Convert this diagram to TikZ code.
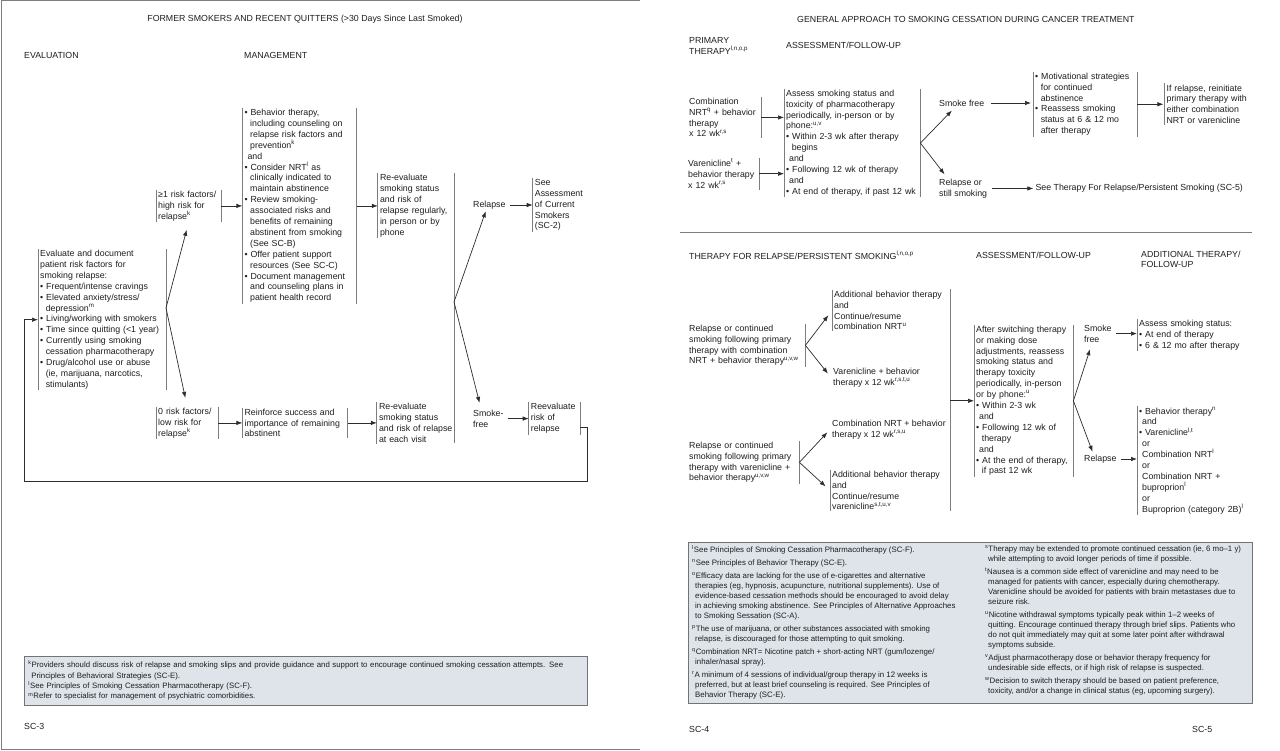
\documentclass[tikz,border=0pt]{standalone}
\usepackage{fontspec}
\setmainfont{Liberation Sans}
\usetikzlibrary{arrows.meta,positioning}
\setlength{\parindent}{0pt}

\definecolor{txt}{RGB}{30,30,30}
\definecolor{linegray}{RGB}{125,125,125}
\definecolor{arrgray}{RGB}{45,45,45}
\definecolor{fnfill}{RGB}{222,228,233}
\definecolor{fnline}{RGB}{115,115,115}

\newcommand{\hg}{\hspace*{5.6pt}}
\newcommand{\an}{\hspace*{3pt}}
\newcommand{\fh}{\hspace*{3pt}}
\newcommand{\sps}[1]{\textsuperscript{#1}}

\tikzset{
  every node/.style={font=\fontsize{8.8}{10.9}\selectfont, text=txt},
  brline/.style={draw=linegray, line width=0.8pt, -},
  arr/.style={draw=arrgray, line width=0.7pt, -{Latex[length=6pt,width=4.5pt]}},
  txtbox/.style={align=left, text width=#1, inner xsep=2pt, inner ysep=1pt, anchor=north west,
    execute at begin node={\hyphenpenalty=10000\relax}},
  lr/.style={append after command={
      (\tikzlastnode.north west) edge[brline] (\tikzlastnode.south west)
      (\tikzlastnode.north east) edge[brline] (\tikzlastnode.south east)}},
  lside/.style={append after command={
      (\tikzlastnode.north west) edge[brline] (\tikzlastnode.south west)}},
  rside/.style={append after command={
      (\tikzlastnode.north east) edge[brline] (\tikzlastnode.south east)}},
  lbl/.style={align=left, inner sep=2pt},
  hdr/.style={align=left, inner sep=0pt},
  fnbox/.style={draw=fnline, fill=fnfill, line width=0.8pt},
  fntext/.style={align=left, inner sep=0pt, font=\fontsize{7.85}{10}\selectfont},
}

\begin{document}
\begin{tikzpicture}[x=1pt, y=-1pt]
  \fill[white, use as bounding box] (0,0) rectangle (1280,751);
  % page frame
  \draw[linegray, line width=1pt] (640,1) -- (1,1) -- (1,749.5) -- (640,749.5);

  % Headers
  \node[hdr] (ttlL) at (305,19) {FORMER SMOKERS AND RECENT QUITTERS (>30 Days Since Last Smoked)};
  \node[hdr, anchor=west] (evalh) at (24,55) {EVALUATION};
  \node[hdr, anchor=west] (mgmth) at (244,55) {MANAGEMENT};
  \node[hdr, anchor=west] (ttlR) at (797,19) {GENERAL APPROACH TO SMOKING CESSATION DURING CANCER TREATMENT};
  \node[hdr, anchor=north west] (primh) at (689,37.5) {PRIMARY\\THERAPY\sps{l,n,o,p}};
  \node[hdr, anchor=west] (assh) at (786,45) {ASSESSMENT/FOLLOW-UP};
  \node[hdr, anchor=west] (relh) at (689,255) {THERAPY FOR RELAPSE/PERSISTENT SMOKING\sps{l,n,o,p}};
  \node[hdr, anchor=west] (assh2) at (976,255) {ASSESSMENT/FOLLOW-UP};
  \node[hdr, anchor=north west] (addh) at (1141,250.5) {ADDITIONAL THERAPY/\\FOLLOW-UP};

  % Nodes, left page
  \node[txtbox=124pt, lr] (evalbox) at (38,249) {Evaluate and document\\patient risk factors for\\smoking relapse:\\• Frequent/intense cravings\\• Elevated anxiety/stress/\\\hg depression\sps{m}\\• Living/working with smokers\\• Time since quitting (<1 year)\\• Currently using smoking\\\hg cessation pharmacotherapy\\• Drug/alcohol use or abuse\\\hg (ie, marijuana, narcotics,\\\hg stimulants)};
  \node[txtbox=61pt, lr] (hirisk) at (156,189.7) {≥1 risk factors/\\high risk for\\relapse\sps{k}};
  \node[txtbox=110pt, lr, right=21pt of hirisk] (mgmt) {• Behavior therapy,\\\hg including counseling on\\\hg relapse risk factors and\\\hg prevention\sps{k}\\\an and\\• Consider NRT\sps{l} as\\\hg clinically indicated to\\\hg maintain abstinence\\• Review smoking-\\\hg associated risks and\\\hg benefits of remaining\\\hg abstinent from smoking\\\hg (See SC-B)\\• Offer patient support\\\hg resources (See SC-C)\\• Document management\\\hg and counseling plans in\\\hg patient health record};
  \node[txtbox=72pt, lside, right=21pt of mgmt] (reeval1) {Re-evaluate\\smoking status\\and risk of\\relapse regularly,\\in person or by\\phone};
  \node[txtbox=58pt, lr] (lowrisk) at (156,406.7) {0 risk factors/\\low risk for\\relapse\sps{k}};
  \node[txtbox=101pt, lr, right=24pt of lowrisk] (reinforce) {Reinforce success and\\importance of remaining\\abstinent};
  \node[txtbox=76pt, lside, right=29pt of reinforce] (reeval2) {Re-evaluate\\smoking status\\and risk of relapse\\at each visit};
  \node[lbl, anchor=west] (relapse) at (471,205) {Relapse};
  \node[txtbox=52pt, lside, right=25pt of relapse] (seeassess) {See\\Assessment\\of Current\\Smokers\\(SC-2)};
  \node[lbl, anchor=north west] (smokefree) at (471,407.7) {Smoke-\\free};
  \node[txtbox=47pt, lr, right=23pt of smokefree] (rrisk) {Reevaluate\\risk of\\relapse};
  \coordinate (br0) at (166,308);
  \coordinate (rtop) at (454,173);
  \coordinate (rbot) at (454,443);
  \coordinate (br1) at (454,302);
  \coordinate (loopc) at (24,481);

  % Arrows, left page
  \draw[brline] (rtop) -- (rbot);
  \draw[arr, shorten >=8pt] (br0) -- (hirisk.south);
  \draw[arr, shorten >=9pt] (br0) -- (lowrisk.north);
  \draw[arr] (hirisk) -- (mgmt);
  \draw[arr] (mgmt) -- (reeval1);
  \draw[arr] (lowrisk) -- (reinforce);
  \draw[arr] (reinforce) -- (reeval2);
  \draw[arr] (br1) -- (relapse.240);
  \draw[arr, shorten >=5pt] (br1) -- (smokefree.125);
  \draw[arr, shorten <=2pt] (relapse) -- (seeassess);
  \draw[arr, shorten <=2pt] (smokefree) -- (rrisk);
  \draw[arr] ([yshift=-9pt]rrisk.east) -- ++(7,0) |- (loopc) |- (evalbox.west);

  % Footnotes, left page
  \node[fnbox, fntext, anchor=north west, text width=555pt, inner xsep=4pt, inner ysep=4.5pt, font=\fontsize{7.8}{10.4}\selectfont] (fnL) at (24,656) {\sps{k}Providers should discuss risk of relapse and smoking slips and provide guidance and support to encourage continued smoking cessation attempts. See\\\fh Principles of Behavioral Strategies (SC-E).\\\sps{l}See Principles of Smoking Cessation Pharmacotherapy (SC-F).\\\sps{m}Refer to specialist for management of psychiatric comorbidities.};
  \node[hdr, anchor=west] (sc3) at (24,726) {SC-3};

  % Nodes, right page (primary therapy)
  \node[txtbox=70pt, rside] (comb) at (687,96.7) {Combination\\NRT\sps{q} + behavior\\therapy\\x 12 wk\sps{r,s}};
  \node[txtbox=69pt, rside] (varen) at (686,157.7) {Varenicline\sps{t} +\\behavior therapy\\x 12 wk\sps{r,s}};
  \node[txtbox=132pt, lr] (assess) at (784,88.7) {Assess smoking status and\\toxicity of pharmacotherapy\\periodically, in-person or by\\phone:\sps{u,v}\\• Within 2-3 wk after therapy\\\hg begins\\\an and\\• Following 12 wk of therapy\\\an and\\• At end of therapy, if past 12 wk};
  \node[lbl, anchor=west] (sf1) at (937,103) {Smoke free};
  \node[txtbox=100pt, lr] (motiv) at (1033,71.7) {• Motivational strategies\\\hg for continued\\\hg abstinence\\• Reassess smoking\\\hg status at 6 \& 12 mo\\\hg after therapy};
  \node[txtbox=84pt, lside, right=27pt of motiv] (ifrel) {If relapse, reinitiate\\primary therapy with\\either combination\\NRT or varenicline};
  \node[lbl, anchor=north west] (relsmk) at (937,176.7) {Relapse or\\still smoking};
  \node[lbl, right=44pt of relsmk] (seether) {See Therapy For Relapse/Persistent Smoking (SC-5)};

  % Arrows, primary therapy
  \draw[arr] (comb.east) -- (comb.east -| assess.west);
  \draw[arr] (varen.east) -- (varen.east -| assess.west);
  \draw[arr, shorten >=3pt] (assess.east) -- (sf1.215);
  \draw[arr, shorten >=3pt] (assess.east) -- (relsmk.145);
  \draw[arr, shorten <=5pt, shorten >=2pt] (sf1.east) -- (sf1.east -| motiv.west);
  \draw[arr, shorten >=1pt] (motiv.east) -- (motiv.east -| ifrel.west);
  \draw[arr, shorten <=3pt] (relsmk.east) -- (relsmk.east -| seether.west);

  \draw[linegray, line width=0.8pt] (680,232) -- (1252,232);

  % Nodes, right page (relapse / persistent smoking)
  \node[txtbox=114pt, rside] (rel1) at (687,323.7) {Relapse or continued\\smoking following primary\\therapy with combination\\NRT + behavior therapy\sps{u,v,w}};
  \node[txtbox=112pt, lside] (addbeh1) at (832,289.7) {Additional behavior therapy\\and\\Continue/resume\\combination NRT\sps{u}};
  \node[lbl, anchor=north west] (varen2) at (831,365.7) {Varenicline + behavior\\therapy x 12 wk\sps{r,s,t,u}};
  \node[lbl, anchor=north west] (combo2) at (830,417.7) {Combination NRT + behavior\\therapy x 12 wk\sps{r,s,u}};
  \node[txtbox=108pt, rside] (rel2) at (687,440.7) {Relapse or continued\\smoking following primary\\therapy with varenicline +\\behavior therapy\sps{u,v,w}};
  \node[txtbox=112pt, lside] (addbeh2) at (830,469.7) {Additional behavior therapy\\and\\Continue/resume\\varenicline\sps{s,t,u,v}};
  \coordinate (gtop) at (950,289);
  \coordinate (gbot) at (950,511);
  \coordinate (br5) at (950,400.8);
  \node[txtbox=95pt, lr] (aftersw) at (974,324.7) {After switching therapy\\or making dose\\adjustments, reassess\\smoking status and\\therapy toxicity\\periodically, in-person\\or by phone:\sps{u}\\• Within 2-3 wk\\\an and\\• Following 12 wk of\\\hg therapy\\\an and\\• At the end of therapy,\\\hg if past 12 wk};
  \node[lbl, anchor=north west] (sf2) at (1082,322.7) {Smoke\\free};
  \node[lbl, anchor=west] (rel3) at (1082,459) {Relapse};
  \node[txtbox=115pt, lside] (assess2) at (1137,318.7) {Assess smoking status:\\• At end of therapy\\• 6 \& 12 mo after therapy};
  \node[txtbox=115pt, lside] (addther) at (1137,405.7) {• Behavior therapy\sps{n}\\\an and\\• Varenicline\sps{l,t}\\\an or\\\an Combination NRT\sps{l}\\\an or\\\an Combination NRT +\\\an buproprion\sps{l}\\\an or\\\an Buproprion (category 2B)\sps{l}};

  % Arrows, relapse / persistent smoking
  \draw[brline] (gtop) -- (gbot);
  \draw[arr, shorten >=6pt] (rel1.east) -- (addbeh1.west);
  \draw[arr, shorten >=5pt] (rel1.east) -- (varen2.west);
  \draw[arr, shorten >=4pt] (rel2.east) -- (combo2.west);
  \draw[arr, shorten >=6pt] (rel2.east) -- (addbeh2.west);
  \draw[arr] (br5) -- (br5 -| aftersw.west);
  \draw[arr, shorten >=5pt] (aftersw.east) -- (sf2.240);
  \draw[arr, shorten >=1pt] (aftersw.east) -- (rel3.140);
  \draw[arr, shorten <=2pt] (sf2.east) -- (sf2.east -| assess2.west);
  \draw[arr, shorten <=2pt] (rel3.east) -- (rel3.east -| addther.west);

  % Footnotes, right page
  \node[fnbox, anchor=north west, minimum width=564pt, minimum height=161pt, inner sep=0pt] (fnR) at (688,542) {};
  \node[fntext, anchor=north west] (fnRa) at ([shift={(4,3.5)}]fnR.north west) {\sps{l}See Principles of Smoking Cessation Pharmacotherapy (SC-F).\\[3pt]
\sps{n}See Principles of Behavior Therapy (SC-E).\\[3pt]
\sps{o}Efficacy data are lacking for the use of e-cigarettes and alternative\\
\fh therapies (eg, hypnosis, acupuncture, nutritional supplements). Use of\\
\fh evidence-based cessation methods should be encouraged to avoid delay\\
\fh in achieving smoking abstinence. See Principles of Alternative Approaches\\
\fh to Smoking Sessation (SC-A).\\[3pt]
\sps{p}The use of marijuana, or other substances associated with smoking\\
\fh relapse, is discouraged for those attempting to quit smoking.\\[3pt]
\sps{q}Combination NRT= Nicotine patch + short-acting NRT (gum/lozenge/\\
\fh inhaler/nasal spray).\\[3pt]
\sps{r}A minimum of 4 sessions of individual/group therapy in 12 weeks is\\
\fh preferred, but at least brief counseling is required. See Principles of\\
\fh Behavior Therapy (SC-E).};
  \node[fntext, anchor=north west] (fnRb) at ([shift={(297,3.5)}]fnR.north west) {\sps{s}Therapy may be extended to promote continued cessation (ie, 6 mo–1 y)\\
\fh while attempting to avoid longer periods of time if possible.\\[3pt]
\sps{t}Nausea is a common side effect of varenicline and may need to be\\
\fh managed for patients with cancer, especially during chemotherapy.\\
\fh Varenicline should be avoided for patients with brain metastases due to\\
\fh seizure risk.\\[3pt]
\sps{u}Nicotine withdrawal symptoms typically peak within 1–2 weeks of\\
\fh quitting. Encourage continued therapy through brief slips. Patients who\\
\fh do not quit immediately may quit at some later point after withdrawal\\
\fh symptoms subside.\\[3pt]
\sps{v}Adjust pharmacotherapy dose or behavior therapy frequency for\\
\fh undesirable side effects, or if high risk of relapse is suspected.\\[3pt]
\sps{w}Decision to switch therapy should be based on patient preference,\\
\fh toxicity, and/or a change in clinical status (eg, upcoming surgery).};
  \node[hdr, anchor=west] (sc4) at (689,729) {SC-4};
  \node[hdr, anchor=west] (sc5) at (1192,729) {SC-5};
\end{tikzpicture}
\end{document}
